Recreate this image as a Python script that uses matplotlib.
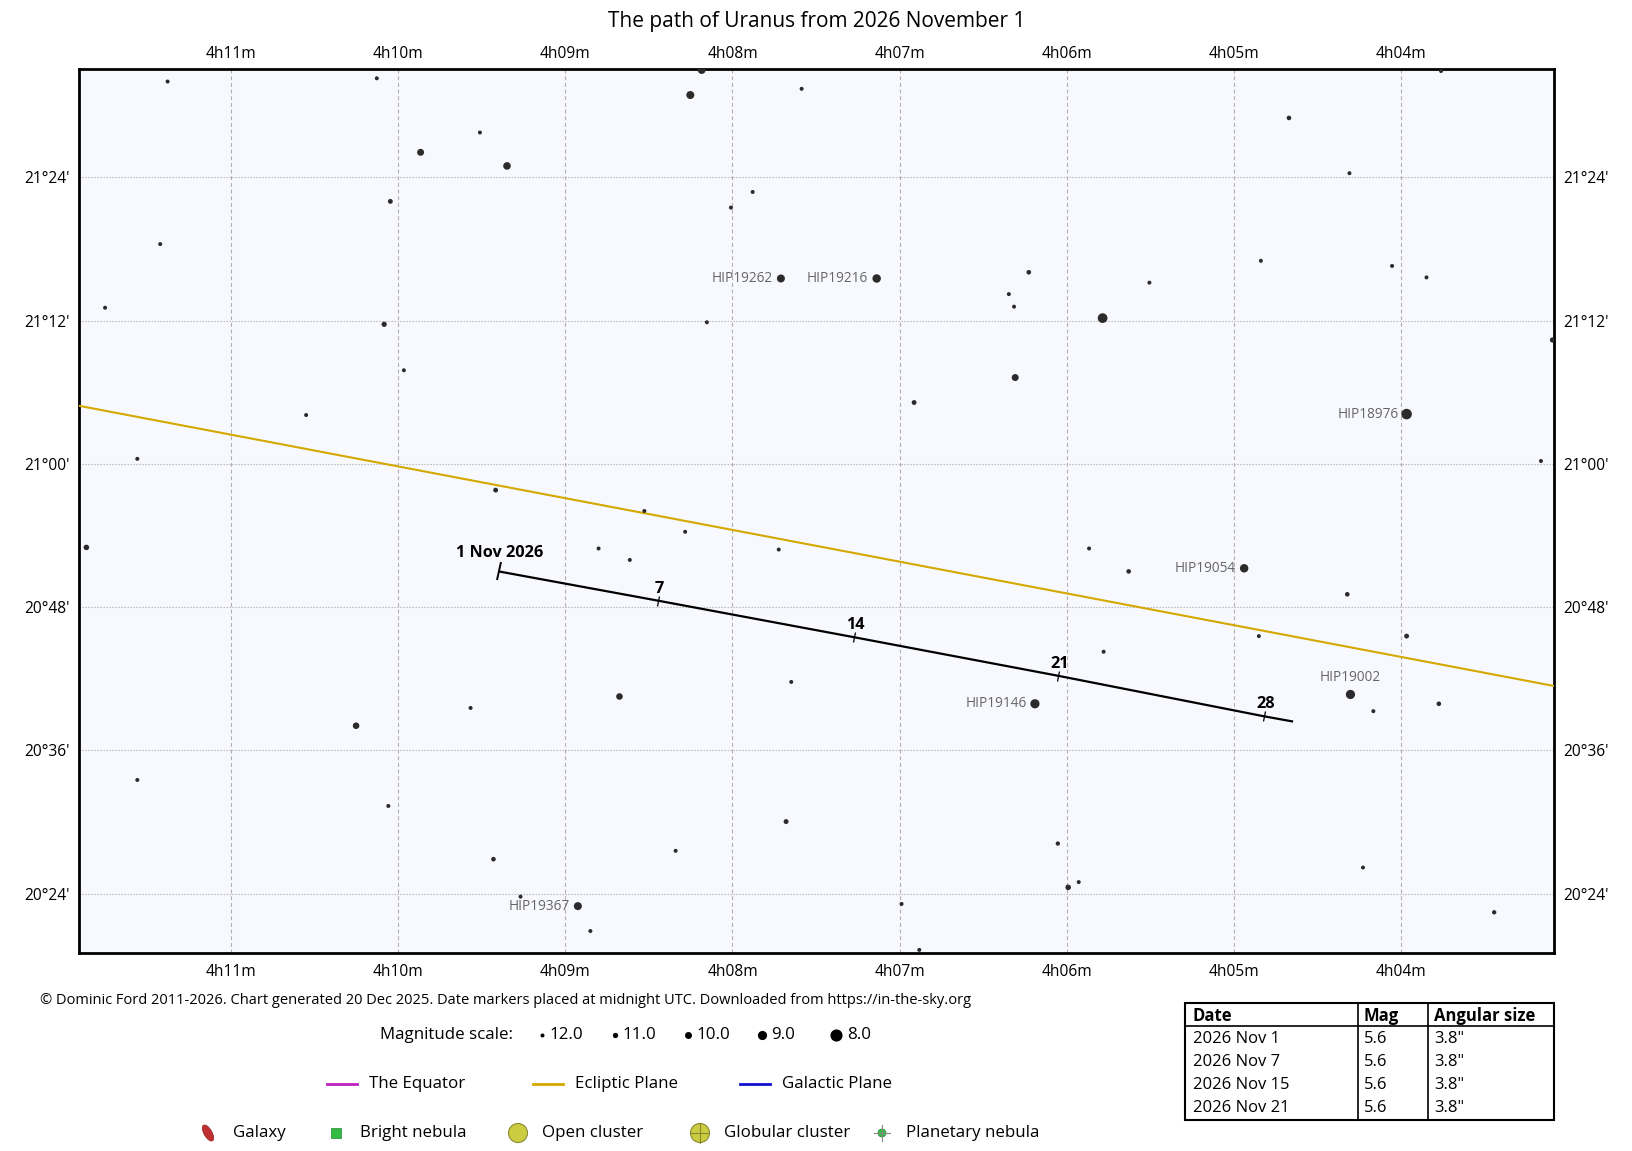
import numpy as np
import matplotlib
matplotlib.use("Agg")
import matplotlib.pyplot as plt
from matplotlib.markers import MarkerStyle
from matplotlib.transforms import Affine2D
from matplotlib.patches import Ellipse, Rectangle, Circle

FONT = ["Open Sans", "DejaVu Sans"]
plt.rcParams['font.family'] = FONT

# ---------------- data ----------------
# RA in minutes after 4h, Dec in arcminutes after +20 deg
star_ra = [11.380, 10.128, 8.184, 8.252, 7.586, 3.760, 9.511, 9.866, 9.349, 4.670,
           4.308, 10.047, 7.879, 8.009, 11.424, 4.838, 4.053, 3.847, 7.710, 7.137,
           6.227, 5.505, 6.346, 6.315, 11.754, 5.785, 10.084, 8.153, 3.093, 9.966,
           6.308, 6.913, 10.551, 3.966, 11.561, 3.162, 9.417, 8.527, 8.283, 11.866,
           8.801, 7.723, 5.866, 8.614, 5.629, 4.938, 4.321, 4.850, 3.966, 5.779,
           7.648, 8.676, 9.567, 10.252, 6.190, 4.302, 4.165, 3.773, 11.561, 10.059,
           7.679, 8.340, 9.430, 6.053, 4.227, 5.991, 5.928, 9.268, 8.925, 6.988,
           8.850, 6.882, 3.442]
star_dec = [92.03, 92.30, 93.00, 90.90, 91.42, 92.91, 87.76, 86.10, 84.96, 88.98,
            84.35, 81.99, 82.78, 81.47, 78.41, 77.01, 76.58, 75.62, 75.53, 75.53,
            76.05, 75.18, 74.22, 73.17, 73.08, 72.21, 71.69, 71.86, 70.38, 67.84,
            67.23, 65.14, 64.09, 64.17, 60.42, 60.24, 57.80, 56.05, 54.31, 53.00,
            52.91, 52.82, 52.91, 51.95, 50.99, 51.25, 49.07, 45.57, 45.57, 44.26,
            41.73, 40.51, 39.55, 38.06, 39.90, 40.68, 39.28, 39.90, 33.52, 31.34,
            30.03, 27.58, 26.88, 28.19, 26.18, 24.52, 24.96, 23.74, 22.95, 23.13,
            20.86, 19.28, 22.43]
star_mag = [12.0, 12.0, 9.5, 9.5, 12.0, 12.0, 12.0, 10.0, 9.7, 11.5,
            12.0, 11.3, 12.0, 12.0, 12.0, 12.0, 12.0, 12.0, 9.5, 9.3,
            11.5, 12.0, 12.0, 12.0, 12.0, 8.8, 11.0, 12.0, 11.0, 12.0,
            10.0, 11.3, 12.0, 8.5, 12.0, 12.0, 11.3, 12.0, 12.0, 10.8,
            12.0, 12.0, 12.0, 12.0, 11.5, 9.3, 11.5, 12.0, 11.3, 12.0,
            12.0, 10.2, 12.0, 10.2, 9.0, 9.0, 12.0, 11.5, 12.0, 12.0,
            11.2, 12.0, 11.5, 11.7, 12.0, 10.8, 12.0, 12.0, 9.5, 12.0,
            12.0, 12.0, 11.7]

hip_names = ["HIP19262", "HIP19216", "HIP18976", "HIP19054", "HIP19146", "HIP19002", "HIP19367"]
hip_ra = [7.710, 7.137, 3.966, 4.938, 6.190, 4.302, 8.925]
hip_dec = [75.53, 75.53, 64.17, 51.25, 39.90, 40.68, 22.95]
hip_pos = ["left", "left", "left", "left", "left", "above", "left"]

ecl_ra = [11.95, 3.05]
ecl_dec = [64.97, 41.30]

path_day = [1, 7, 14, 21, 28, 29]
path_ra = [9.399, 8.446, 7.274, 6.053, 4.819, 4.645]
path_dec = [50.99, 48.54, 45.48, 42.25, 38.85, 38.41]
marker_labels = ["1 Nov 2026", "7", "14", "21", "28"]

ra_ticks = [11, 10, 9, 8, 7, 6, 5, 4]
dec_ticks = [24, 36, 48, 60, 72, 84]

mag_scale = [12.0, 11.0, 10.0, 9.0, 8.0]
table_cols = ["Date", "Mag", "Angular size"]
table_dates = ["2026 Nov 1", "2026 Nov 7", "2026 Nov 15", "2026 Nov 21"]
table_mags = ["5.6", "5.6", "5.6", "5.6"]
table_sizes = ['3.8"', '3.8"', '3.8"', '3.8"']

# ---------------- figure ----------------
W, H = 1633, 1151
fig = plt.figure(figsize=(W / 100, H / 100), dpi=100)
ax = fig.add_axes([79 / W, 1 - 953 / H, (1554 - 79) / W, (953 - 69) / H])
ax.set_facecolor("#f8f9fe")
ax.set_xlim(11.91, 3.084)
ax.set_ylim(19.02, 93.08)


def mag_diam(m):
    return 4.0 * 1.32 ** (12.0 - np.asarray(m))


def mag_to_size(m):
    return (mag_diam(m) * 0.72) ** 2


STAR_C = "#2b2b2b"
ax.scatter(star_ra, star_dec, s=mag_to_size(star_mag), c=STAR_C, lw=0, zorder=4, clip_on=True)

for name, r, d, p in zip(hip_names, hip_ra, hip_dec, hip_pos):
    if p == "left":
        ax.annotate(name, (r, d), xytext=(-6, 0), textcoords="offset points",
                    ha="right", va="center", fontsize=9.8, color="#666666", zorder=5)
    else:
        ax.annotate(name, (r, d), xytext=(0, 7), textcoords="offset points",
                    ha="center", va="bottom", fontsize=9.8, color="#666666", zorder=5)

# grid
for r in ra_ticks:
    ax.axvline(r, color="#b0b0b0", lw=0.8, ls=(0, (3.5, 2.5)), zorder=1)
for d in dec_ticks:
    ax.axhline(d, color="#b0b0b0", lw=0.8, ls=(0, (1.2, 1.5)), zorder=1)

ax.plot(ecl_ra, ecl_dec, color="#d4a800", lw=1.5, zorder=3)
ax.plot(path_ra, path_dec, color="black", lw=1.6, zorder=6, solid_capstyle="butt")

# date markers perpendicular to the path
p0 = ax.transData.transform((path_ra[0], path_dec[0]))
p1 = ax.transData.transform((path_ra[-1], path_dec[-1]))
ang = np.degrees(np.arctan2(p1[1] - p0[1], p1[0] - p0[0]))
for i, lab in enumerate(marker_labels):
    big = i == 0
    ms = MarkerStyle("|", transform=Affine2D().rotate_deg(ang))
    ax.plot(path_ra[i], path_dec[i], marker=ms, ms=13 if big else 7,
            mew=1.4 if big else 0.9, color="black", zorder=7)
    ax.annotate(lab, (path_ra[i], path_dec[i]), xytext=(1, 13 if big else 8.5),
                textcoords="offset points", ha="center", va="center",
                fontsize=11.7, fontweight="bold", color="black", zorder=8)

# axes ticks
ax.set_xticks(ra_ticks)
ra_labels = [f"4h{m:02d}m" for m in ra_ticks]
ax.set_xticklabels(ra_labels)
ax.set_yticks(dec_ticks)
ax.set_yticklabels([f"{20 + (d // 60)}°{d % 60:02d}'" for d in dec_ticks])
ax.tick_params(axis="both", length=0, labelsize=11.2, colors="black")
ax.tick_params(axis="x", top=False, labeltop=False, bottom=True, labelbottom=True, pad=8)
ax.tick_params(axis="y", left=True, labelleft=True, right=True, labelright=True, pad=7)
for r, lab in zip(ra_ticks, ra_labels):
    ax.annotate(lab, (r, 1), xycoords=("data", "axes fraction"), xytext=(0, 10.5),
                textcoords="offset points", ha="center", va="center", fontsize=11.2)
for s in ax.spines.values():
    s.set_linewidth(2)
    s.set_color("black")

fig.text(0.5, 1 - 21 / H, "The path of Uranus from 2026 November 1",
         ha="center", va="center", fontsize=15)

# ---------------- legend / footer (pixel overlay) ----------------
lax = fig.add_axes([0, 0, 1, 1], zorder=-1)
lax.set_xlim(0, W)
lax.set_ylim(H, 0)
lax.axis("off")

lax.text(40, 1000, "© Dominic Ford 2011-2026. Chart generated 20 Dec 2025. Date markers placed at midnight UTC. "
         "Downloaded from https://in-the-sky.org", ha="left", va="center", fontsize=10.5)

ym = 1035
lax.text(380, ym, "Magnitude scale:", ha="left", va="center", fontsize=12.2)
dot_x = [542, 615, 688, 762, 836]
for m, x in zip(mag_scale, dot_x):
    lax.scatter([x], [ym], s=mag_to_size(m), c="black", lw=0)
    lax.text(x + mag_diam(m) / 2 + 5, ym, f"{m:.1f}", ha="left", va="center", fontsize=12.2)

y2 = 1084
line_items = [("The Equator", "#c020c0", 327), ("Ecliptic Plane", "#d4a800", 533),
              ("Galactic Plane", "#1010d0", 740)]
for lab, col, x in line_items:
    lax.plot([x, x + 30], [y2, y2], color=col, lw=2)
    lax.text(x + 42, y2, lab, ha="left", va="center", fontsize=12.2)

y3 = 1133
lax.add_patch(Ellipse((208, y3), 8, 18, angle=-30, facecolor="#c03030", edgecolor="#902020", lw=0.5))
lax.text(233, y3, "Galaxy", ha="left", va="center", fontsize=12.2)
lax.add_patch(Rectangle((331, y3 - 5), 10, 10, facecolor="#33bb44", edgecolor="#208830", lw=0.5))
lax.text(360, y3, "Bright nebula", ha="left", va="center", fontsize=12.2)
lax.add_patch(Circle((518, y3), 9.5, facecolor="#cccc40", edgecolor="#888830", lw=0.8))
lax.text(542, y3, "Open cluster", ha="left", va="center", fontsize=12.2)
lax.add_patch(Circle((700, y3), 9.5, facecolor="#cccc40", edgecolor="#888830", lw=0.8))
lax.plot([690.5, 709.5], [y3, y3], color="#888830", lw=0.8)
lax.plot([700, 700], [y3 - 9.5, y3 + 9.5], color="#888830", lw=0.8)
lax.text(724, y3, "Globular cluster", ha="left", va="center", fontsize=12.2)
lax.plot([874, 890], [y3, y3], color="#888888", lw=0.8)
lax.plot([882, 882], [y3 - 8, y3 + 8], color="#888888", lw=0.8)
lax.add_patch(Circle((882, y3), 4, facecolor="#33bb44", edgecolor="#208830", lw=0.5))
lax.text(906, y3, "Planetary nebula", ha="left", va="center", fontsize=12.2)

# table
tx0, tx1, tx2, tx3 = 1185, 1358, 1428, 1554
ty0, tyh, ty1 = 1003, 1026, 1120
lax.add_patch(Rectangle((tx0, ty0), tx3 - tx0, ty1 - ty0, facecolor="white", edgecolor="black", lw=1.5))
lax.plot([tx0, tx3], [tyh, tyh], color="black", lw=1.2)
lax.plot([tx1, tx1], [ty0, ty1], color="black", lw=1.2)
lax.plot([tx2, tx2], [ty0, ty1], color="black", lw=1.2)
col_x = [tx0 + 8, tx1 + 6, tx2 + 6]
for cx, lab in zip(col_x, table_cols):
    lax.text(cx, 1016, lab, ha="left", va="center", fontsize=12, fontweight="bold")
row_y = [1039, 1062, 1085, 1108]
for ry, a, b, c in zip(row_y, table_dates, table_mags, table_sizes):
    lax.text(col_x[0], ry, a, ha="left", va="center", fontsize=12)
    lax.text(col_x[1], ry, b, ha="left", va="center", fontsize=12)
    lax.text(col_x[2], ry, c, ha="left", va="center", fontsize=12)

fig.savefig("out.png", dpi=100, facecolor="white")
